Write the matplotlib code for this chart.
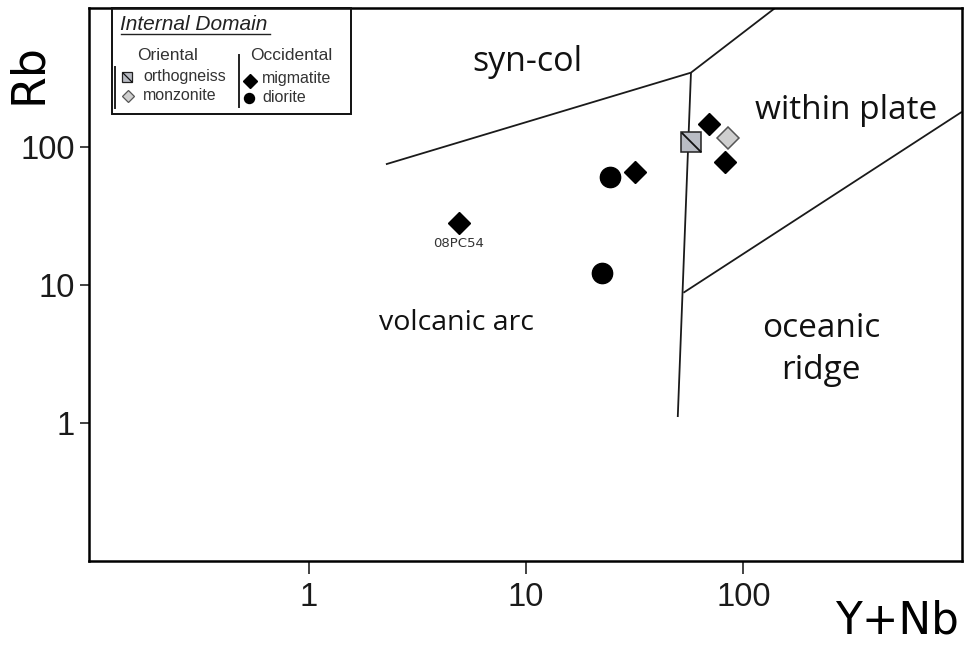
import matplotlib
matplotlib.use('Agg')
import matplotlib.pyplot as plt
from matplotlib.patches import Rectangle
from matplotlib.path import Path
from matplotlib.ticker import NullLocator

# samples (Y+Nb, Rb in ppm)
migmatite_ynb = [4.9, 31.7, 69.7, 82.4]
migmatite_rb = [27.9, 65.9, 145.0, 78.0]
diorite_ynb = [24.2, 22.4]
diorite_rb = [60.6, 12.2]
orthogneiss_ynb = [57.4]
orthogneiss_rb = [109.0]
monzonite_ynb = [85.3]
monzonite_rb = [115.0]
sample_label = '08PC54'

# field boundaries
syncol_ynb = [2.26, 57.4, 143.0]
syncol_rb = [74.6, 344.0, 1037.0]
vag_wpg_ynb = [57.4, 49.9]
vag_wpg_rb = [344.0, 1.1]
wpg_org_ynb = [53.0, 1016.0]
wpg_org_rb = [8.75, 179.0]

ticks = [1, 10, 100]
tick_labels = ['1', '10', '100']

W, H = 968, 646
fig = plt.figure(figsize=(W / 100, H / 100), dpi=100)
ax = fig.add_axes([89.3 / W, 1 - 561 / H, (962.3 - 89.3) / W, (561 - 8) / H])
ax.set_xscale('log')
ax.set_yscale('log')
ax.set_xlim(10 ** -1.012, 10 ** 3.0085)
ax.set_ylim(10 ** -1.002, 10 ** 3.005)

line_kw = dict(color='#1a1a1a', lw=1.3, solid_capstyle='butt', clip_on=True)
ax.plot(syncol_ynb, syncol_rb, **line_kw)
ax.plot(vag_wpg_ynb, vag_wpg_rb, **line_kw)
ax.plot(wpg_org_ynb, wpg_org_rb, **line_kw)

# slashed square for orthogneiss
slash = Path([(-1, 1), (1, -1)], [Path.MOVETO, Path.LINETO])
ax.plot(orthogneiss_ynb, orthogneiss_rb, 's', ms=14.2, mfc='#b9bcc4', mec='#222222', mew=1.1)
ax.plot(orthogneiss_ynb, orthogneiss_rb, marker=slash, ls='none', ms=14.2, mec='#111111', mew=1.3)
ax.plot(monzonite_ynb, monzonite_rb, 'D', ms=11.0, mfc='#cfcfcf', mec='#555555', mew=1.1)
ax.plot(migmatite_ynb, migmatite_rb, 'D', ms=11.2, color='black', ls='none')
ax.plot(diorite_ynb, diorite_rb, 'o', ms=14.6, color='black', ls='none')

ax.annotate(sample_label, xy=(migmatite_ynb[0], migmatite_rb[0]), xytext=(0, -14.5),
            textcoords='offset points', ha='center', va='center', fontsize=9.5,
            color='#333333', family='DejaVu Sans')

field_kw = dict(ha='center', va='center', family='Open Sans', color='#111111')
ax.text(10.1, 411, 'syn-col', fontsize=24.5, **field_kw)
ax.text(297, 184, 'within plate', fontsize=24, **field_kw)
ax.text(4.75, 5.28, 'volcanic arc', fontsize=20.5, **field_kw)
ax.text(228, 3.4, 'oceanic\nridge', fontsize=24, linespacing=1.38, **field_kw)

ax.set_xticks(ticks)
ax.set_xticklabels(tick_labels)
ax.set_yticks(ticks)
ax.set_yticklabels(tick_labels)
ax.xaxis.set_minor_locator(NullLocator())
ax.yaxis.set_minor_locator(NullLocator())
ax.tick_params(axis='x', length=9, width=1.2, pad=6, labelsize=23.5, color='#222222')
ax.tick_params(axis='y', length=6.5, width=1.2, pad=4, labelsize=23.5, color='#222222')
for lab in ax.get_xticklabels() + ax.get_yticklabels():
    lab.set_family('Liberation Sans')
    lab.set_color('#1a1a1a')
for sp in ax.spines.values():
    sp.set_linewidth(1.8)

fig.text(28 / W, 1 - 73 / H, 'Rb', rotation=90, ha='center', va='center',
         fontsize=33, family='DejaVu Sans')
fig.text(897 / W, 1 - 621 / H, 'Y+Nb', ha='center', va='center',
         fontsize=31.5, family='DejaVu Sans')

# legend drawn on an overlay in pixel units
lg = fig.add_axes([0, 0, 1, 1], zorder=5)
lg.set_xlim(0, W)
lg.set_ylim(H, 0)
lg.axis('off')
lg.add_patch(Rectangle((111.7, 8), 239, 106, fill=False, ec='#111111', lw=1.4))
lg.text(120.5, 24, 'Internal Domain', ha='left', va='center', fontsize=15,
        style='italic', family='Liberation Sans', color='#222222')
lg.plot([120.5, 270], [34, 34], color='#222222', lw=1.0)
lkw = dict(va='center', fontsize=11.5, family='Liberation Sans', color='#333333')
lg.text(168, 55, 'Oriental', ha='center', **dict(lkw, fontsize=12.5))
lg.text(291, 55, 'Occidental', ha='center', **dict(lkw, fontsize=12.5))
lg.text(143, 77, 'orthogneiss', ha='left', **lkw)
lg.text(143, 96, 'monzonite', ha='left', **lkw)
lg.text(262, 78, 'migmatite', ha='left', **lkw)
lg.text(262, 97, 'diorite', ha='left', **lkw)
lg.plot([115, 115], [67, 108], color='#222222', lw=1.4)
lg.plot([239, 239], [55, 107], color='#222222', lw=1.4)
lg.plot([126.7], [76.7], 's', ms=7.2, mfc='#b9bcc4', mec='#222222', mew=0.9)
lg.plot([126.7], [76.7], marker=slash, ms=7.2, mec='#111111', mew=0.9)
lg.plot([127.7], [95.7], 'D', ms=6.0, mfc='#cfcfcf', mec='#555555', mew=0.9)
lg.plot([250], [81], 'D', ms=7.0, color='black')
lg.plot([249], [97.7], 'o', ms=7.2, color='black')

fig.savefig('out.png', dpi=100)
